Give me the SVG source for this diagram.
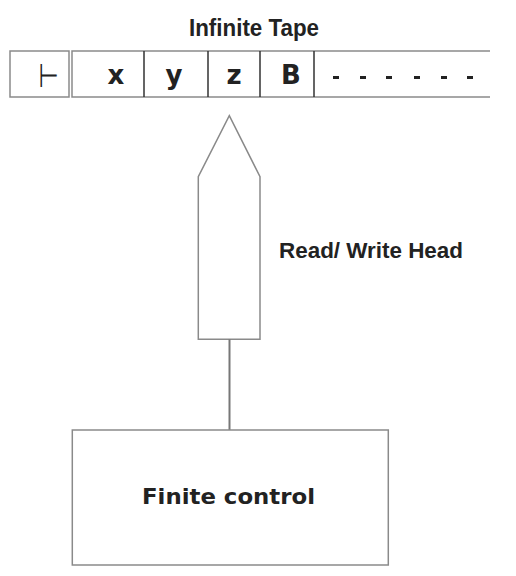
<svg xmlns="http://www.w3.org/2000/svg" width="516" height="576" viewBox="0 0 516 576">
<style>
.ln{fill:none;stroke:#8a8a8a;stroke-width:1.5}
.dv{fill:none;stroke:#333;stroke-width:1.5}
.t{font-family:"Liberation Sans",Arial,sans-serif;font-weight:bold;fill:#222}
.d{font-family:"DejaVu Sans",Verdana,sans-serif;font-weight:bold;fill:#222}
.dash{fill:#222}
</style>
<rect width="516" height="576" fill="#fff"/>
<text class="t" x="189" y="36" font-size="23" textLength="130" lengthAdjust="spacingAndGlyphs">Infinite Tape</text>
<g id="tape">
<rect class="ln" x="10" y="51" width="59" height="46"/>
<path class="ln" d="M490 51 H72 V97 H490"/>
<path class="dv" d="M144 51 V97 M208 51 V97 M260 51 V97 M314 51 V97"/>
<text transform="translate(48.5 87) scale(0.7 1)" font-family="DejaVu Sans,sans-serif" font-size="33" fill="#222" text-anchor="middle">⊢</text>
<g class="d" font-size="26" text-anchor="middle">
<text x="116" y="84">x</text>
<text x="174" y="84">y</text>
<text x="234" y="84">z</text>
<text x="291" y="84">B</text>
</g>
<g class="dash">
<rect x="333" y="76" width="6" height="3"/>
<rect x="360" y="76" width="6" height="3"/>
<rect x="386" y="76" width="6" height="3"/>
<rect x="414" y="76" width="6" height="3"/>
<rect x="441" y="76" width="6" height="3"/>
<rect x="467" y="76" width="6" height="3"/>
</g>
</g>
<g id="head">
<path class="ln" d="M229.3 115.7 L260 176.7 V339.3 H198.3 V176.7 Z"/>
<text class="t" x="279" y="258" font-size="22" textLength="184" lengthAdjust="spacingAndGlyphs">Read/ Write Head</text>
</g>
<g id="connectors">
<line x1="229.5" y1="339.3" x2="229.5" y2="430" stroke="#777" stroke-width="2"/>
</g>
<g id="control">
<rect class="ln" x="72.3" y="430" width="316" height="135"/>
<text class="d" x="142" y="503.5" font-size="21.5" textLength="173" lengthAdjust="spacingAndGlyphs">Finite control</text>
</g>
</svg>
